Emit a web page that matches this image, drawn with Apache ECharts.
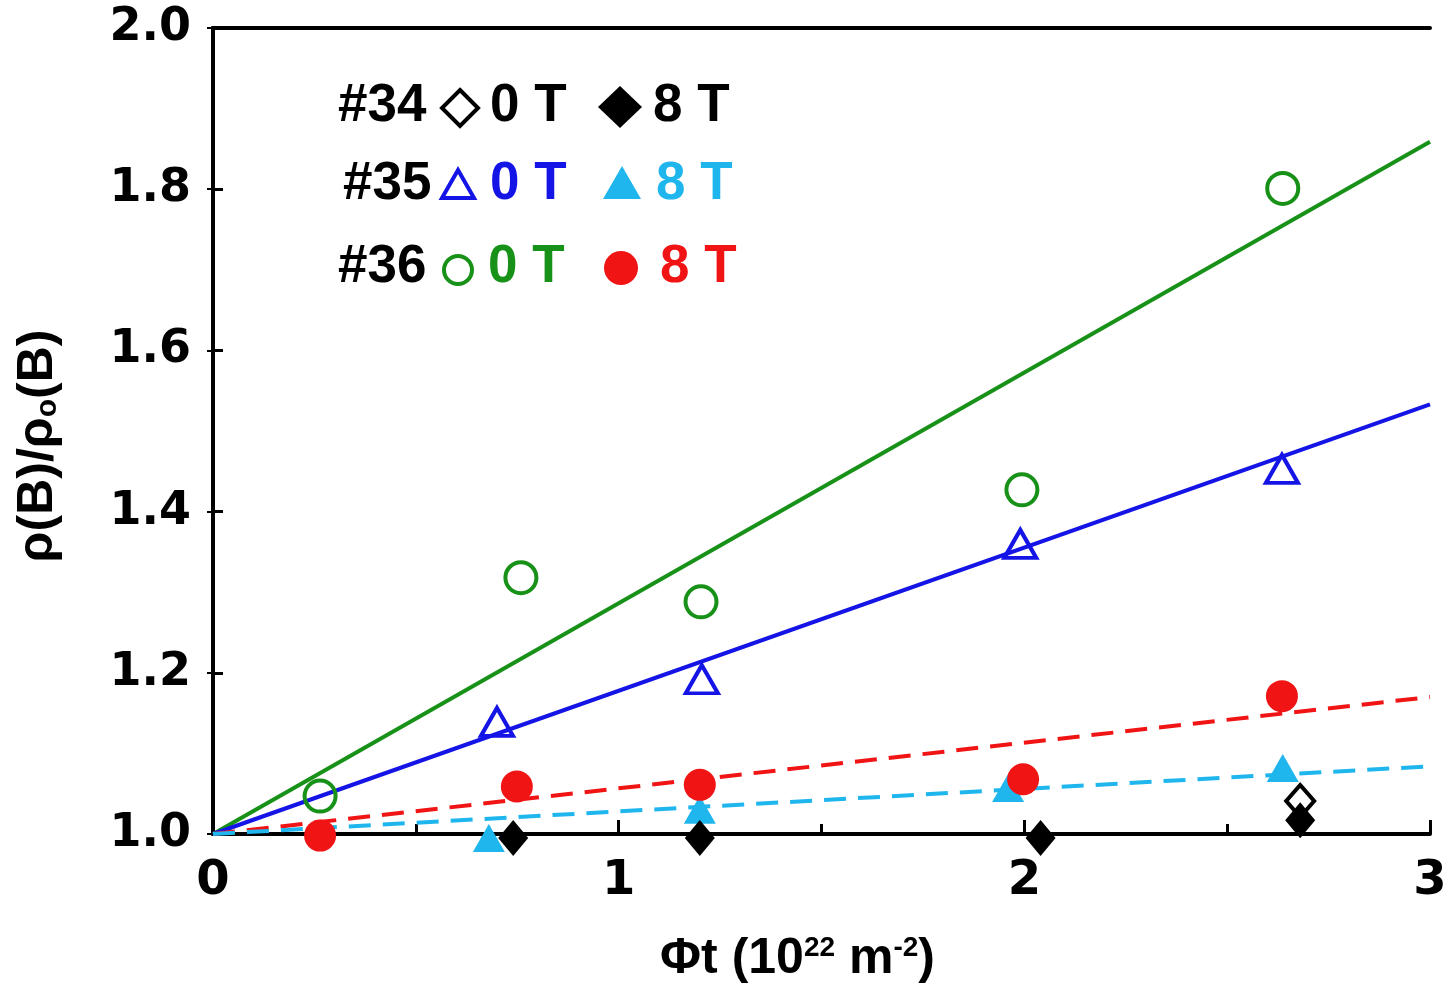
<!DOCTYPE html>
<html><head><meta charset="utf-8">
<script src="https://cdn.jsdelivr.net/npm/echarts@6/dist/echarts.min.js"></script>
<style>html,body{margin:0;padding:0;background:#fff}#c{width:1450px;height:989px}</style>
</head><body><div id="c"></div>
<script>
// ---- data ----
const xTicks = [0, 1, 2, 3];
const yTicks = [1.0, 1.2, 1.4, 1.6, 1.8, 2.0];
const s34_0T = [[2.68, 1.041]];
const s34_8T = [[0.74, 0.995], [1.2, 0.995], [2.04, 0.995], [2.68, 1.017]];
const s35_0T = [[0.70, 1.139], [1.205, 1.192], [1.99, 1.36], [2.635, 1.453]];
const s35_8T = [[0.68, 0.995], [1.2, 1.03], [1.96, 1.057], [2.637, 1.082]];
const s36_0T = [[0.264, 1.047], [0.759, 1.318], [1.203, 1.288], [1.994, 1.427], [2.637, 1.801]];
const s36_8T = [[0.264, 0.998], [0.749, 1.059], [1.2, 1.061], [1.997, 1.068], [2.635, 1.171]];
const fit35_0T = [[0, 1], [3, 1.533]];
const fit35_8T = [[0, 1], [3, 1.084]];
const fit36_0T = [[0, 1], [3, 1.859]];
const fit36_8T = [[0, 1], [3, 1.17]];

// ---- style ----
const FONT = '"Liberation Sans", Arial, Helvetica, sans-serif';
const WIDE = '"DejaVu Sans", "Liberation Sans", sans-serif';
const GREEN = '#179117', BLUE = '#1414e6', RED = '#f01414', CYAN = '#1fb6ee', BLACK = '#000';

const chart = echarts.init(document.getElementById('c'), null, {renderer: 'canvas'});

const txt = (x, y, t, color) => ({type: 'text', left: x, top: y, z: 100,
  style: {text: t, fill: color, font: 'bold 53px ' + FONT}});

const option = {
  backgroundColor: '#fff',
  animation: false,
  grid: {left: 213, right: 20, top: 28, bottom: 153, show: false},
  xAxis: [{
    type: 'value', min: 0, max: 3, interval: 1,
    axisLine: {show: true, lineStyle: {color: BLACK, width: 4}},
    axisTick: {show: true, inside: true, length: 14, lineStyle: {color: BLACK, width: 3}},
    minorTick: {show: true, splitNumber: 2, length: 10, lineStyle: {color: BLACK, width: 3}},
    splitLine: {show: false},
    axisLabel: {margin: 24, color: BLACK, fontFamily: WIDE, fontWeight: 'bold', fontSize: 48,
      formatter: v => xTicks.includes(v) ? String(v) : ''},
    name: '{n|Φt (10}{s|22}{n| m}{s|-2}{n|)}',
    nameLocation: 'middle', nameGap: 100,
    nameTextStyle: {padding: [0, 48, 0, 0], rich: {
      n: {fontFamily: FONT, fontWeight: 'bold', fontSize: 50, color: BLACK},
      s: {fontFamily: FONT, fontWeight: 'bold', fontSize: 28, color: BLACK, verticalAlign: 'top', padding: [0,0,22,0]}
    }}
  }, {
    type: 'value', min: 0, max: 3, position: 'top',
    axisLine: {show: true, lineStyle: {color: BLACK, width: 4}},
    axisTick: {show: false}, axisLabel: {show: false}, splitLine: {show: false}
  }],
  yAxis: [{
    type: 'value', min: 1.0, max: 2.0, interval: 0.2,
    axisLine: {show: true, lineStyle: {color: BLACK, width: 4}},
    axisTick: {show: true, inside: true, length: 10, lineStyle: {color: BLACK, width: 3}},
    splitLine: {show: false},
    axisLabel: {margin: 22, color: BLACK, fontFamily: WIDE, fontWeight: 'bold', fontSize: 46,
      formatter: v => yTicks.find(t => Math.abs(t - v) < 1e-6).toFixed(1)},
    name: '{n|ρ(B)/ρ}{s|o}{n|(B)}',
    nameLocation: 'middle', nameGap: 150, nameRotate: 90,
    nameTextStyle: {padding: [0, 30, 0, 0], rich: {
      n: {fontFamily: FONT, fontWeight: 'bold', fontSize: 50, color: BLACK},
      s: {fontFamily: FONT, fontWeight: 'bold', fontSize: 30, color: BLACK, verticalAlign: 'bottom', padding: [16,0,0,0]}
    }}
  }, {
    type: 'value', min: 1.0, max: 2.0, interval: 0.2, position: 'right',
    axisLine: {show: true, lineStyle: {color: BLACK, width: 4}},
    axisTick: {show: true, inside: true, length: 6, lineStyle: {color: BLACK, width: 2}},
    axisLabel: {show: false}, splitLine: {show: false}
  }],
  series: [
    {type: 'line', data: fit36_0T, symbol: 'none', z: 2, lineStyle: {color: GREEN, width: 4}},
    {type: 'line', data: fit35_0T, symbol: 'none', z: 2, lineStyle: {color: BLUE, width: 4}},
    {type: 'line', data: fit36_8T, symbol: 'none', z: 2, lineStyle: {color: RED, width: 4, type: [22, 12]}},
    {type: 'line', data: fit35_8T, symbol: 'none', z: 2, lineStyle: {color: CYAN, width: 4, type: [22, 12]}},
    {type: 'scatter', data: s36_0T, clip: false, z: 5, symbol: 'circle', symbolSize: 31,
      itemStyle: {color: 'rgba(0,0,0,0)', borderColor: GREEN, borderWidth: 4, opacity: 1}},
    {type: 'scatter', data: s35_0T, clip: false, z: 5, symbol: 'triangle', symbolSize: [32, 28],
      itemStyle: {color: 'rgba(0,0,0,0)', borderColor: BLUE, borderWidth: 4, opacity: 1}},
    {type: 'scatter', data: s35_8T, clip: false, z: 5, symbol: 'triangle', symbolSize: [32, 28],
      itemStyle: {color: CYAN, opacity: 1}},
    {type: 'scatter', data: s36_8T, clip: false, z: 6, symbol: 'circle', symbolSize: 32,
      itemStyle: {color: RED, opacity: 1}},
    {type: 'scatter', data: s34_0T, clip: false, z: 6, symbol: 'diamond', symbolSize: [28, 32],
      itemStyle: {color: 'rgba(0,0,0,0)', borderColor: BLACK, borderWidth: 4, opacity: 1}},
    {type: 'scatter', data: s34_8T, clip: false, z: 7, symbol: 'diamond', symbolSize: [30, 36],
      itemStyle: {color: BLACK, opacity: 1}}
  ],
  graphic: [
    // row 1
    txt(338, 80, '#34', BLACK),
    {type: 'polygon', z: 100, shape: {points: [[460, 90], [478, 108], [460, 126], [442, 108]]},
      style: {fill: 'none', stroke: BLACK, lineWidth: 4}},
    txt(490, 80, '0 T', BLACK),
    {type: 'polygon', z: 100, shape: {points: [[620, 86], [642, 107], [620, 128], [598, 107]]},
      style: {fill: BLACK}},
    txt(653, 80, '8 T', BLACK),
    // row 2
    txt(343, 158, '#35', BLACK),
    {type: 'polygon', z: 100, shape: {points: [[458, 170], [474, 198], [442, 198]]},
      style: {fill: 'none', stroke: BLUE, lineWidth: 4}},
    txt(490, 158, '0 T', BLUE),
    {type: 'polygon', z: 100, shape: {points: [[622, 166], [641, 199], [603, 199]]},
      style: {fill: CYAN}},
    txt(656, 158, '8 T', CYAN),
    // row 3
    txt(338, 241, '#36', BLACK),
    {type: 'circle', z: 100, shape: {cx: 458, cy: 270, r: 14},
      style: {fill: 'none', stroke: GREEN, lineWidth: 4}},
    txt(488, 241, '0 T', GREEN),
    {type: 'circle', z: 100, shape: {cx: 621, cy: 268, r: 17}, style: {fill: RED}},
    txt(660, 241, '8 T', RED)
  ]
};
chart.setOption(option);
</script>
</body></html>
